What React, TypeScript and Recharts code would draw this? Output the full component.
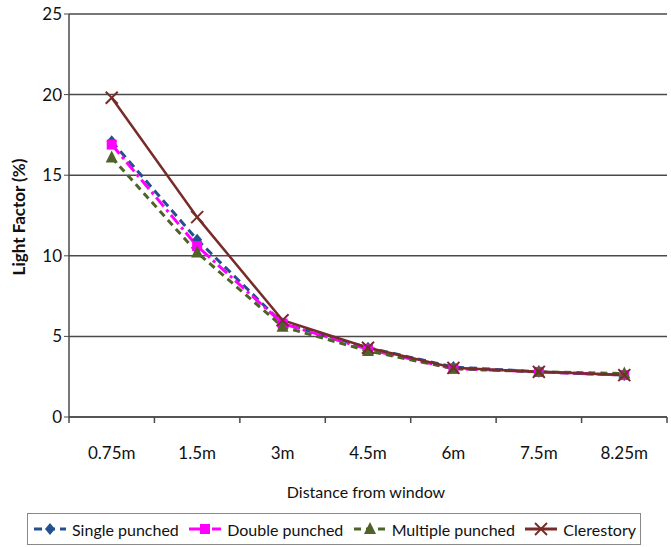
import React from "react";
import { LineChart, Line, XAxis, YAxis, CartesianGrid } from "recharts";

const distances = ["0.75m", "1.5m", "3m", "4.5m", "6m", "7.5m", "8.25m"];
const singlePunched = [17.1, 11.0, 5.8, 4.3, 3.1, 2.8, 2.6];
const doublePunched = [16.9, 10.6, 5.8, 4.2, 3.0, 2.8, 2.6];
const multiplePunched = [16.1, 10.2, 5.6, 4.1, 3.0, 2.8, 2.7];
const clerestory = [19.8, 12.4, 6.0, 4.3, 3.05, 2.8, 2.6];
const yTicks = [0, 5, 10, 15, 20, 25];

const data = distances.map((d, i) => ({
  name: d,
  single: singlePunched[i],
  double: doublePunched[i],
  multiple: multiplePunched[i],
  clerestory: clerestory[i],
}));

const FONT = "Lato, 'Open Sans', sans-serif";
const C_SINGLE = "#24508f";
const C_DOUBLE = "#ff00ff";
const C_MULTI = "#4f6228";
const C_CLER = "#772c2a";
const AXIS = "#4a4a4a";

const W = 671;
const H = 547;
const PLOT_LEFT = 69;
const PLOT_RIGHT = 667;
const BAND = (PLOT_RIGHT - PLOT_LEFT) / distances.length;

function Marker({ shape, cx, cy, color }: { shape: string; cx: number; cy: number; color: string }) {
  if (shape === "diamond")
    return <path d={`M${cx},${cy - 6} L${cx + 5},${cy} L${cx},${cy + 6} L${cx - 5},${cy} Z`} fill={color} />;
  if (shape === "square") return <rect x={cx - 5} y={cy - 5} width={10} height={10} fill={color} />;
  if (shape === "triangle")
    return <path d={`M${cx},${cy - 7} L${cx + 6},${cy + 5} L${cx - 6},${cy + 5} Z`} fill={color} />;
  return (
    <g stroke={color} strokeWidth={2}>
      <line x1={cx - 6} y1={cy - 6} x2={cx + 6} y2={cy + 6} />
      <line x1={cx - 6} y1={cy + 6} x2={cx + 6} y2={cy - 6} />
    </g>
  );
}

const dotFor = (shape: string, color: string) => (props: any) => {
  const { cx, cy, index } = props;
  return <Marker key={`${shape}-${index}`} shape={shape} cx={cx} cy={cy} color={color} />;
};

const XTick = (props: any) => {
  const { x, y, payload, index } = props;
  const left = x - BAND / 2;
  return (
    <g>
      <line x1={left} y1={y - 8} x2={left} y2={y - 2} stroke={AXIS} strokeWidth={1.5} />
      {index === distances.length - 1 && (
        <line x1={x + BAND / 2} y1={y - 8} x2={x + BAND / 2} y2={y - 2} stroke={AXIS} strokeWidth={1.5} />
      )}
      <text x={x} y={y + 34} textAnchor="middle" fontSize={17} fontFamily={FONT} fill="#111">
        {payload.value}
      </text>
    </g>
  );
};

const series = [
  { key: "single", label: "Single punched", color: C_SINGLE, shape: "diamond", dash: "8 5" },
  { key: "double", label: "Double punched", color: C_DOUBLE, shape: "square", dash: "12 4 3 4" },
  { key: "multiple", label: "Multiple punched", color: C_MULTI, shape: "triangle", dash: "7 5" },
  { key: "clerestory", label: "Clerestory", color: C_CLER, shape: "x", dash: undefined },
];

function LegendBox() {
  return (
    <div
      style={{
        position: "absolute",
        left: 27,
        top: 513,
        width: 614,
        height: 32,
        border: "1.5px solid #888",
        boxSizing: "border-box",
        display: "flex",
        alignItems: "center",
        justifyContent: "space-between",
        padding: "0 4px 0 4px",
        fontFamily: FONT,
        fontSize: 16,
        color: "#111",
        background: "#fff",
        whiteSpace: "nowrap",
      }}
    >
      {series.map((s) => (
        <div key={s.key} style={{ display: "flex", alignItems: "center" }}>
          <svg width={36} height={16} style={{ marginRight: 4 }}>
            <line x1={2} y1={8} x2={34} y2={8} stroke={s.color} strokeWidth={3} strokeDasharray={s.dash} />
            <Marker shape={s.shape} cx={18} cy={8} color={s.color} />
          </svg>
          <span>{s.label}</span>
        </div>
      ))}
    </div>
  );
}

export default function App() {
  return (
    <div style={{ position: "absolute", left: 0, top: 0, width: W, height: H, background: "#fff" }}>
      <LineChart
        width={W}
        height={H}
        data={data}
        margin={{ top: 14, right: W - PLOT_RIGHT, bottom: 0, left: 0 }}
      >
        <CartesianGrid vertical={false} stroke={AXIS} strokeWidth={1.5} />
        <XAxis
          dataKey="name"
          height={130}
          padding={{ left: BAND / 2, right: BAND / 2 }}
          axisLine={{ stroke: AXIS, strokeWidth: 1.5 }}
          tickLine={false}
          tick={<XTick />}
          interval={0}
          label={{
            content: () => (
              <text x={366} y={498} textAnchor="middle" fontSize={16} fontFamily={FONT} fill="#111">
                Distance from window
              </text>
            ),
          }}
        />
        <YAxis
          width={PLOT_LEFT}
          domain={[0, 25]}
          ticks={yTicks}
          interval={0}
          axisLine={{ stroke: AXIS, strokeWidth: 1.5 }}
          tickLine={{ stroke: AXIS }}
          tickSize={5}
          tick={{ fontSize: 17, fontFamily: FONT, fill: "#111" }}
          label={{
            content: () => (
              <text
                transform="translate(25,217) rotate(-90)"
                textAnchor="middle"
                fontSize={17}
                fontWeight="bold"
                fontFamily={FONT}
                fill="#111"
              >
                Light Factor (%)
              </text>
            ),
          }}
        />
        <YAxis
          yAxisId="r"
          orientation="right"
          width={0}
          domain={[0, 25]}
          tick={false}
          axisLine={{ stroke: AXIS, strokeWidth: 1.5 }}
        />
        {series.map((s) => (
          <Line
            key={s.key}
            dataKey={s.key}
            stroke={s.color}
            strokeWidth={s.key === "clerestory" ? 2.5 : 3}
            strokeDasharray={s.dash}
            dot={dotFor(s.shape, s.color)}
            activeDot={false}
            isAnimationActive={false}
          />
        ))}
      </LineChart>
      <LegendBox />
    </div>
  );
}
